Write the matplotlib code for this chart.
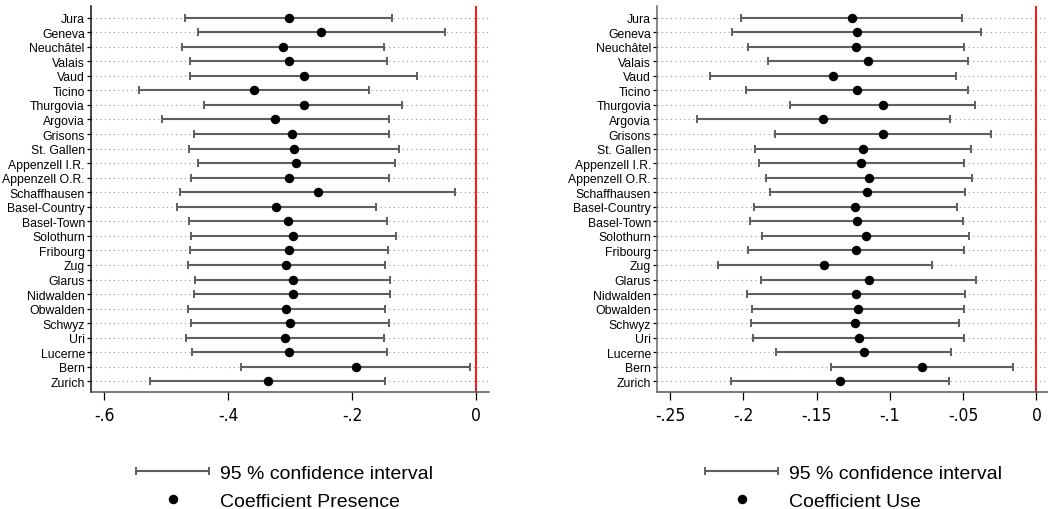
import matplotlib
matplotlib.use("Agg")
import matplotlib.pyplot as plt
from matplotlib import font_manager
from matplotlib.container import ErrorbarContainer
from matplotlib.legend_handler import HandlerErrorbar
import numpy as np

cantons = ["Jura", "Geneva", "Neuchâtel", "Valais", "Vaud", "Ticino", "Thurgovia",
           "Argovia", "Grisons", "St. Gallen", "Appenzell I.R.", "Appenzell O.R.",
           "Schaffhausen", "Basel-Country", "Basel-Town", "Solothurn", "Fribourg",
           "Zug", "Glarus", "Nidwalden", "Obwalden", "Schwyz", "Uri", "Lucerne",
           "Bern", "Zurich"]

# coefficient presence (left panel)
pres_coef = [-0.302, -0.250, -0.312, -0.302, -0.278, -0.358, -0.278, -0.324, -0.297,
             -0.294, -0.290, -0.301, -0.255, -0.322, -0.304, -0.295, -0.302, -0.306,
             -0.296, -0.296, -0.306, -0.300, -0.308, -0.301, -0.194, -0.336]
pres_lo = [-0.470, -0.448, -0.475, -0.462, -0.462, -0.543, -0.439, -0.506, -0.455,
           -0.463, -0.448, -0.460, -0.477, -0.482, -0.463, -0.460, -0.461, -0.465,
           -0.454, -0.455, -0.465, -0.459, -0.468, -0.458, -0.379, -0.526]
pres_hi = [-0.135, -0.050, -0.148, -0.144, -0.095, -0.173, -0.119, -0.141, -0.140,
           -0.124, -0.130, -0.141, -0.034, -0.161, -0.144, -0.129, -0.142, -0.147,
           -0.138, -0.138, -0.147, -0.141, -0.149, -0.144, -0.010, -0.146]

# coefficient use (right panel)
use_coef = [-0.1261, -0.1225, -0.1232, -0.1152, -0.1387, -0.1223, -0.1046, -0.1455,
            -0.1048, -0.1186, -0.1196, -0.1143, -0.1155, -0.1236, -0.1227, -0.1164,
            -0.1232, -0.1448, -0.1143, -0.1232, -0.1216, -0.1241, -0.1211, -0.1180,
            -0.0780, -0.1341]
use_lo = [-0.2016, -0.2075, -0.1970, -0.1834, -0.2227, -0.1980, -0.1680, -0.2318,
          -0.1786, -0.1921, -0.1893, -0.1848, -0.1820, -0.1925, -0.1953, -0.1875,
          -0.1968, -0.2175, -0.1877, -0.1977, -0.1939, -0.1950, -0.1934, -0.1775,
          -0.1402, -0.2084]
use_hi = [-0.0505, -0.0375, -0.0496, -0.0466, -0.0548, -0.0466, -0.0416, -0.0593,
          -0.0312, -0.0448, -0.0496, -0.0439, -0.0486, -0.0539, -0.0502, -0.0457,
          -0.0496, -0.0714, -0.0411, -0.0486, -0.0496, -0.0530, -0.0491, -0.0584,
          -0.0159, -0.0600]

pres_ticks = [-0.6, -0.4, -0.2, 0]
pres_ticklabels = ["-.6", "-.4", "-.2", "0"]
use_ticks = [-0.25, -0.2, -0.15, -0.1, -0.05, 0]
use_ticklabels = ["-.25", "-.2", "-.15", "-.1", "-.05", "0"]

# condensed face for the x tick labels, if there is one
names = {f.name for f in font_manager.fontManager.ttflist}
if "Liberation Sans Narrow" in names:
    tick_font = dict(family="Liberation Sans Narrow")
else:
    tick_font = dict(family="DejaVu Sans", stretch="condensed")
plt.rcParams['font.family'] = ['Liberation Sans', 'DejaVu Sans']

fig = plt.figure(figsize=(10.51, 5.10), dpi=100)
ax1 = fig.add_axes([0.0866, 0.2288, 0.3787, 0.7575])
ax2 = fig.add_axes([0.6254, 0.2288, 0.3708, 0.7575])

ci_col = "#5e5e5e"
panels = [
    (ax1, pres_coef, pres_lo, pres_hi, pres_ticks, pres_ticklabels, (-0.621, 0.021),
     "Coefficient Presence", 136, "#111111"),
    (ax2, use_coef, use_lo, use_hi, use_ticks, use_ticklabels, (-0.2587, 0.0072),
     "Coefficient Use", 705, "#666666"),
]

n = len(cantons)
ypos = np.arange(n)[::-1]

for ax, coef, lo, hi, ticks, tlabels, xlim, lab, legx, spcol in panels:
    coef = np.array(coef)
    xerr = [coef - np.array(lo), np.array(hi) - coef]
    eb = ax.errorbar(coef, ypos, xerr=xerr, fmt='none', ecolor=ci_col, elinewidth=1.5,
                     capsize=2.6, capthick=1.4, label="95 % confidence interval", zorder=3)
    pts, = ax.plot(coef, ypos, 'o', color='black', ms=5.8, linestyle='none', label=lab, zorder=4)
    ax.axvline(0, color='red', lw=1.3, zorder=2)
    ax.set_xlim(*xlim)
    ax.set_ylim(-0.75, n - 1 + 0.8)
    ax.set_yticks(ypos)
    ax.set_yticklabels(cantons, fontsize=8.8)
    ax.set_xticks(ticks)
    ax.set_xticklabels(tlabels, fontsize=12.5, **tick_font)
    ax.grid(axis='y', linestyle=(0, (1, 3)), color='#999999', lw=0.8, zorder=1)
    ax.tick_params(axis='y', length=3, width=0.9, pad=1.5, colors='black')
    ax.tick_params(axis='x', length=6, width=0.9, pad=3.5, colors='black')
    for s in ['top', 'right']:
        ax.spines[s].set_visible(False)
    ax.spines['left'].set_color(spcol)
    ax.spines['left'].set_linewidth(1.1)
    ax.spines['bottom'].set_color('#555555')
    ax.spines['bottom'].set_linewidth(1.1)

    leg = fig.legend(handles=[eb, pts], loc='upper left',
                     bbox_to_anchor=(legx / 1051, 1 - 465 / 510),
                     frameon=False, fontsize=14, handlelength=3.76, handletextpad=0.57,
                     labelspacing=0.55, borderpad=0, borderaxespad=0, numpoints=1,
                     handler_map={ErrorbarContainer: HandlerErrorbar(xerr_size=1.88)})

fig.savefig("out.png", dpi=100)
